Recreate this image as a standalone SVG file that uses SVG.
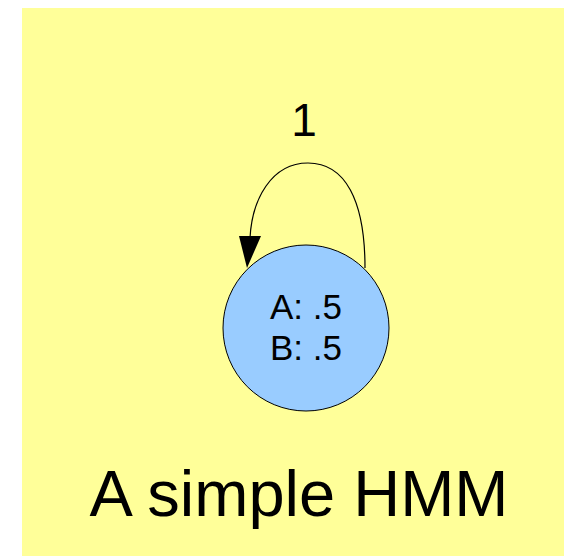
<svg xmlns="http://www.w3.org/2000/svg" width="564" height="556" viewBox="0 0 564 556">
  <style>
    text { font-family: "Liberation Sans", Arial, sans-serif; fill: #000; text-anchor: middle; }
    .state { fill: #99ccff; stroke: #000; stroke-width: 1; }
    .edge { fill: none; stroke: #000; stroke-width: 1.2; }
  </style>
  <rect x="22" y="8" width="542" height="548" fill="#ffff99"/>
  <g id="connectors">
    <path class="edge" d="M365,268 C365,200 345,163 308,163 C271,163 252,200 250,238"/>
    <polygon points="239,236 261,236 247,268" fill="#000"/>
    <text x="304" y="136" font-size="46">1</text>
  </g>
  <g id="state">
    <circle class="state" cx="306" cy="328" r="83"/>
    <text x="306" y="319" font-size="35">A: .5</text>
    <text x="306" y="360" font-size="35">B: .5</text>
  </g>
  <g id="caption">
    <text x="299" y="516" font-size="65">A simple HMM</text>
  </g>
</svg>
